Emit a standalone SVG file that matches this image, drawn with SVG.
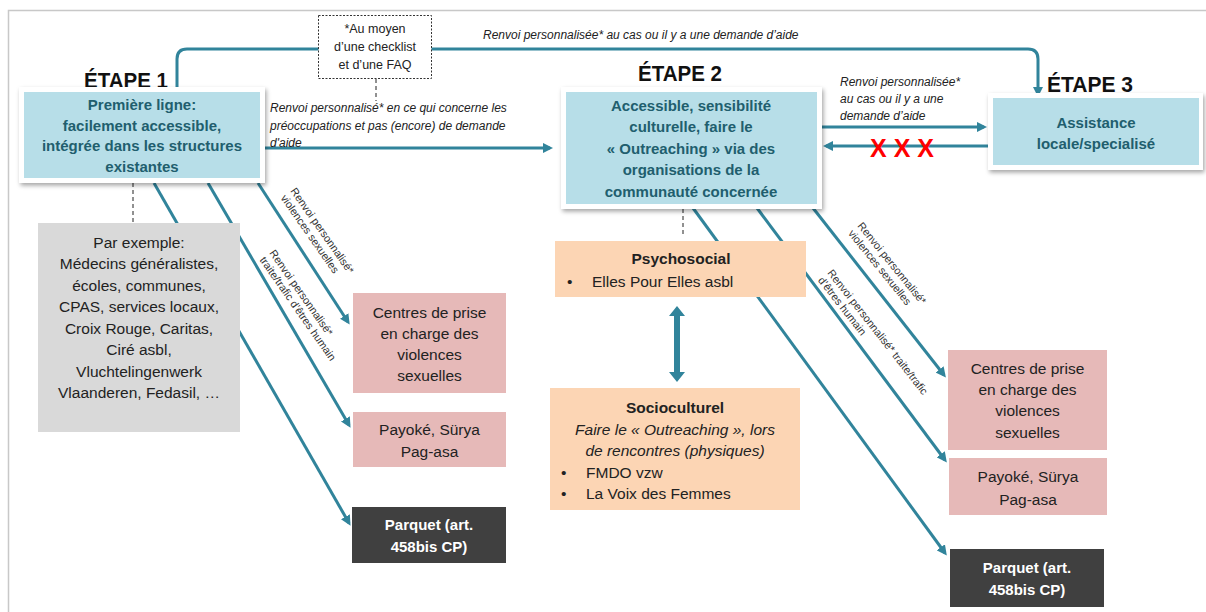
<svg xmlns="http://www.w3.org/2000/svg" width="1206" height="612" viewBox="0 0 1206 612">
<defs>
<style>
.t{font-family:"Liberation Sans",Arial,sans-serif}
.stage{font-family:"Liberation Sans",Arial,sans-serif;font-weight:bold;font-size:22px;fill:#111;text-anchor:middle}
.bt{font-family:"Liberation Sans",Arial,sans-serif;font-weight:bold;font-size:15px;fill:#215e6e;text-anchor:middle}
.rt{font-family:"Liberation Sans",Arial,sans-serif;font-size:15.5px;fill:#222;text-anchor:middle}
.wt{font-family:"Liberation Sans",Arial,sans-serif;font-weight:bold;font-size:15px;fill:#fff;text-anchor:middle}
.it{font-family:"Liberation Sans",Arial,sans-serif;font-style:italic;font-size:12px;fill:#222}
.sm{font-family:"Liberation Sans",Arial,sans-serif;font-size:10.8px;fill:#333}
.conn{fill:none;stroke:#31849b;stroke-width:3}
.card{fill:#fff;filter:url(#sh)}
.blue{fill:#b7dee8}
.pink{fill:#e6b9b8}
.peach{fill:#fcd5b4}
</style>
<filter id="sh" x="-10%" y="-10%" width="125%" height="130%">
<feDropShadow dx="1.5" dy="2.5" stdDeviation="2" flood-color="#000" flood-opacity="0.35"/>
</filter>
<marker id="ah" viewBox="0 0 10 10" refX="7" refY="5" markerWidth="3.4" markerHeight="3.4" orient="auto">
<path d="M0,0 L10,5 L0,10 z" fill="#31849b"/>
</marker>
</defs>
<rect width="1206" height="612" fill="#fff"/>
<path d="M8.5,612 V10.5 H1206" fill="none" stroke="#c8c8c8" stroke-width="1.5"/>

<g id="labels">
<text class="stage" x="126" y="88" textLength="84" lengthAdjust="spacingAndGlyphs">ÉTAPE 1</text>
<text class="stage" x="680" y="81" textLength="84" lengthAdjust="spacingAndGlyphs">ÉTAPE 2</text>
<text class="stage" x="1090" y="92" textLength="86" lengthAdjust="spacingAndGlyphs">ÉTAPE 3</text>
</g>

<g id="connectors">
<path class="conn" stroke-width="4" d="M177,88 V59 Q177,49 187,49 H1028 Q1038,49 1038,59 V94" marker-end="url(#ah)"/>
<line class="conn" x1="265" y1="148" x2="550" y2="148" marker-end="url(#ah)"/>
<line class="conn" x1="822" y1="127" x2="984" y2="127" marker-end="url(#ah)"/>
<line class="conn" x1="988" y1="146" x2="826" y2="146" marker-end="url(#ah)"/>
<line class="conn" x1="258" y1="183" x2="348" y2="322" marker-end="url(#ah)"/>
<line class="conn" x1="208" y1="183" x2="349" y2="425" marker-end="url(#ah)"/>
<line class="conn" x1="154" y1="183" x2="349" y2="523" marker-end="url(#ah)"/>
<line class="conn" x1="813" y1="208" x2="944" y2="375" marker-end="url(#ah)"/>
<line class="conn" x1="757" y1="208" x2="945" y2="460" marker-end="url(#ah)"/>
<line class="conn" x1="693" y1="208" x2="945" y2="553" marker-end="url(#ah)"/>
<path d="M376,79 V101 M133,183 V222 M683,209 V236" fill="none" stroke="#222" stroke-width="1" stroke-dasharray="4,3"/>
<path d="M677,306 L685,316 H680 V372 H685 L677,382 L669,372 H674 V316 H669 Z" fill="#31849b"/>
</g>

<g id="connector-labels">
<text class="it" x="483" y="39">Renvoi personnalisée* au cas ou il y a une demande d’aide</text>
<text class="it" x="270"><tspan x="270" y="112">Renvoi personnalisé* en ce qui concerne les</tspan><tspan x="270" y="130">préoccupations et pas (encore) de demande</tspan><tspan x="270" y="147">d'aide</tspan></text>
<text class="it" x="840"><tspan x="840" y="86">Renvoi personnalisée*</tspan><tspan x="840" y="103">au cas ou il y a une</tspan><tspan x="840" y="120">demande d’aide</tspan></text>
<text x="902" y="157" font-family="Liberation Sans,Arial,sans-serif" font-weight="bold" font-size="25px" fill="#ff0000" text-anchor="middle">X X X</text>
<text class="sm" transform="translate(290,191) rotate(55)"><tspan x="0" y="0">Renvoi personnalisé*</tspan><tspan x="0" y="12">violences sexuelles</tspan></text>
<text class="sm" transform="translate(269,253) rotate(55)"><tspan x="0" y="0">Renvoi personnalisé*</tspan><tspan x="0" y="12">traite/trafic d’êtres humain</tspan></text>
<text class="sm" transform="translate(857,226) rotate(51)"><tspan x="0" y="0">Renvoi personnalisé*</tspan><tspan x="0" y="12">violences sexuelles</tspan></text>
<text class="sm" transform="translate(827,273) rotate(52)"><tspan x="0" y="0">Renvoi personnalisé* traite/trafic</tspan><tspan x="0" y="12">d’êtres humain</tspan></text>
</g>

<g id="note">
<rect x="318.5" y="15.5" width="113" height="63" fill="#fff" stroke="#333" stroke-width="1" stroke-dasharray="2,1.5"/>
<text class="t" font-size="12.5px" fill="#222" text-anchor="middle"><tspan x="375" y="33">*Au moyen</tspan><tspan x="375" y="51">d’une checklist</tspan><tspan x="375" y="69">et d’une FAQ</tspan></text>
</g>

<g id="etape1">
<rect class="card" x="19" y="87" width="246" height="96"/>
<rect class="blue" x="24" y="92" width="236" height="86"/>
<text class="bt"><tspan x="142" y="110">Première ligne:</tspan><tspan x="142" y="130.5">facilement accessible,</tspan><tspan x="142" y="151">intégrée dans les structures</tspan><tspan x="142" y="171.5">existantes</tspan></text>
</g>

<g id="etape2">
<rect class="card" x="561" y="87" width="261" height="122"/>
<rect class="blue" x="566" y="92" width="251" height="112"/>
<text class="bt" font-size="15.5px"><tspan x="691" y="110.5">Accessible, sensibilité</tspan><tspan x="691" y="132">culturelle, faire le</tspan><tspan x="691" y="153.5">« Outreaching » via des</tspan><tspan x="691" y="175">organisations de la</tspan><tspan x="691" y="197">communauté concernée</tspan></text>
</g>

<g id="etape3">
<rect class="card" x="988" y="93" width="215" height="77"/>
<rect class="blue" x="993" y="98" width="206" height="67"/>
<text class="bt" font-size="15.5px"><tspan x="1096" y="127.5">Assistance</tspan><tspan x="1096" y="148.5">locale/specialisé</tspan></text>
</g>

<g id="exemples">
<rect x="38" y="223" width="202" height="209" fill="#d9d9d9"/>
<text class="rt" font-size="15.5px"><tspan x="139" y="247.5">Par exemple:</tspan><tspan x="139" y="269">Médecins généralistes,</tspan><tspan x="139" y="290.5">écoles, communes,</tspan><tspan x="139" y="312">CPAS, services locaux,</tspan><tspan x="139" y="333.5">Croix Rouge, Caritas,</tspan><tspan x="139" y="355">Ciré asbl,</tspan><tspan x="139" y="376.5">Vluchtelingenwerk</tspan><tspan x="139" y="398">Vlaanderen, Fedasil, …</tspan></text>
</g>

<g id="centres1">
<rect class="pink" x="353" y="293" width="153" height="100"/>
<text class="rt"><tspan x="429.5" y="318">Centres de prise</tspan><tspan x="429.5" y="339">en charge des</tspan><tspan x="429.5" y="360">violences</tspan><tspan x="429.5" y="381">sexuelles</tspan></text>
</g>
<g id="payoke1">
<rect class="pink" x="353" y="412" width="153" height="55"/>
<text class="rt"><tspan x="429.5" y="434.5">Payoké, Sürya</tspan><tspan x="429.5" y="457">Pag-asa</tspan></text>
</g>
<g id="parquet1">
<rect x="352" y="507" width="154" height="56" fill="#404040"/>
<text class="wt"><tspan x="429" y="529.5">Parquet (art.</tspan><tspan x="429" y="552">458bis CP)</tspan></text>
</g>

<g id="psychosocial">
<rect class="peach" x="555" y="241" width="251" height="56"/>
<text class="t" x="681" y="263.5" font-size="15.5px" font-weight="bold" fill="#222" text-anchor="middle">Psychosocial</text>
<text class="t" x="567" y="286.5" font-size="15.5px" fill="#222">•</text>
<text class="t" x="592" y="286.5" font-size="15.5px" fill="#222">Elles Pour Elles asbl</text>
</g>

<g id="socioculturel">
<rect class="peach" x="550" y="388" width="250" height="122"/>
<text class="t" x="675" y="412.5" font-size="15.5px" font-weight="bold" fill="#222" text-anchor="middle">Socioculturel</text>
<text class="t" font-size="15.5px" font-style="italic" fill="#222" text-anchor="middle"><tspan x="675" y="434.5">Faire le « Outreaching », lors</tspan><tspan x="675" y="455.5">de rencontres (physiques)</tspan></text>
<text class="t" font-size="15.5px" fill="#222"><tspan x="561" y="477.5">•</tspan><tspan x="561" y="498.5">•</tspan></text>
<text class="t" font-size="15.5px" fill="#222"><tspan x="586" y="477.5">FMDO vzw</tspan><tspan x="586" y="498.5">La Voix des Femmes</tspan></text>
</g>

<g id="centres2">
<rect class="pink" x="948" y="350" width="159" height="100"/>
<text class="rt"><tspan x="1027.5" y="374">Centres de prise</tspan><tspan x="1027.5" y="395">en charge des</tspan><tspan x="1027.5" y="416">violences</tspan><tspan x="1027.5" y="437.5">sexuelles</tspan></text>
</g>
<g id="payoke2">
<rect class="pink" x="949" y="458" width="158" height="57"/>
<text class="rt"><tspan x="1028" y="482">Payoké, Sürya</tspan><tspan x="1028" y="505">Pag-asa</tspan></text>
</g>
<g id="parquet2">
<rect x="950" y="549" width="154" height="58" fill="#404040"/>
<text class="wt"><tspan x="1027" y="572.5">Parquet (art.</tspan><tspan x="1027" y="595">458bis CP)</tspan></text>
</g>
</svg>
